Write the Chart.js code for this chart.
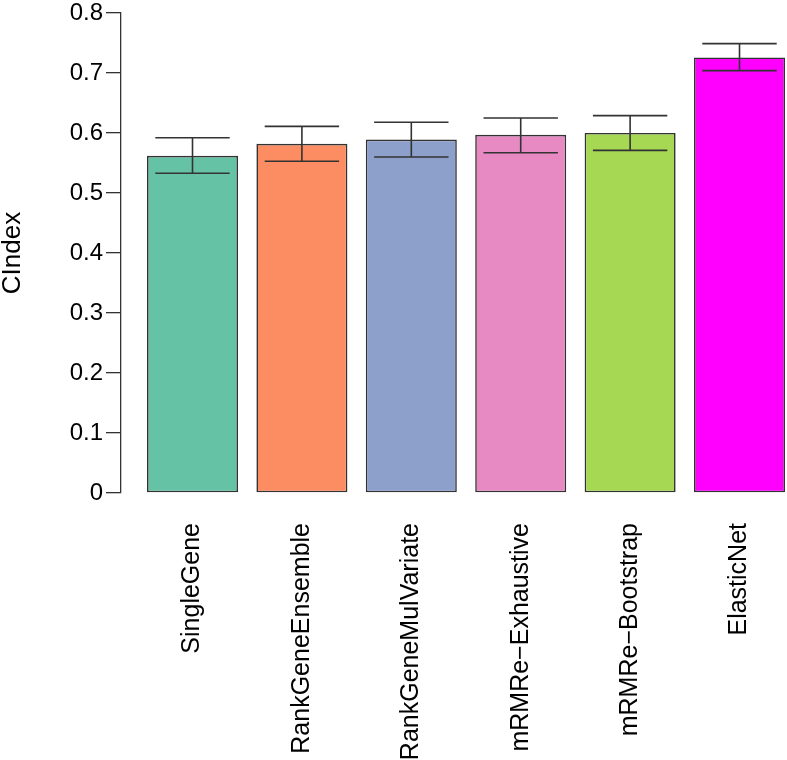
<!DOCTYPE html>
<html>
<head>
<meta charset="utf-8">
<script src="https://cdn.jsdelivr.net/npm/chart.js@4.4.0/dist/chart.umd.min.js"></script>
<style>
  html, body { margin: 0; padding: 0; background: #fff; }
  #wrap { width: 787px; height: 760px; }
</style>
</head>
<body>
<div id="wrap"><canvas id="cindexChart" width="787" height="760"></canvas></div>
<script>
// Dados
const methods = ['SingleGene', 'RankGeneEnsemble', 'RankGeneMulVariate', 'mRMRe\u2212Exhaustive', 'mRMRe\u2212Bootstrap', 'ElasticNet'];
const cindex = [0.562, 0.582, 0.589, 0.597, 0.600, 0.726];
const lowerCI = [0.533, 0.553, 0.560, 0.567, 0.571, 0.704];
const upperCI = [0.592, 0.611, 0.618, 0.625, 0.629, 0.749];
const barColors = ['#66C2A5', '#FC8D62', '#8DA0CB', '#E78AC3', '#A6D854', '#FF00FF'];
const yTickLabels = ['0', '0.1', '0.2', '0.3', '0.4', '0.5', '0.6', '0.7', '0.8'];

const fontFamily = '"Liberation Sans", Arial, sans-serif';

// Barras de erro desenhadas por cima das barras
const errorBars = {
  id: 'errorBars',
  afterDatasetsDraw(chart) {
    const { ctx, scales: { x, y } } = chart;
    ctx.save();
    ctx.strokeStyle = '#333';
    ctx.lineWidth = 1.6;
    for (let i = 0; i < methods.length; i++) {
      const cx = x.getPixelForValue(i);
      const x0 = x.getPixelForValue(i - 0.34);
      const x1 = x.getPixelForValue(i + 0.34);
      const yl = y.getPixelForValue(lowerCI[i]);
      const yu = y.getPixelForValue(upperCI[i]);
      ctx.beginPath();
      ctx.moveTo(cx, yl); ctx.lineTo(cx, yu);
      ctx.moveTo(x0, yu); ctx.lineTo(x1, yu);
      ctx.moveTo(x0, yl); ctx.lineTo(x1, yl);
      ctx.stroke();
    }
    ctx.restore();
  }
};

const ctx = document.getElementById('cindexChart').getContext('2d');
const chart = new Chart(ctx, {
  type: 'bar',
  data: {
    datasets: [{
      data: methods.map((m, i) => ({ x: i, y: cindex[i] })),
      backgroundColor: barColors,
      borderColor: '#333',
      borderWidth: 1.6,
      borderSkipped: false,
      barPercentage: 1,
      categoryPercentage: 0.832
    }]
  },
  options: {
    responsive: false,
    animation: false,
    layout: { padding: { top: 13, right: 0, left: 0, bottom: 0 } },
    plugins: { legend: { display: false }, tooltip: { enabled: false } },
    scales: {
      x: {
        type: 'linear',
        offset: false,
        min: -0.6536,
        max: 5.434,
        grid: { display: false, drawTicks: false },
        border: { display: false },
        afterBuildTicks: (s) => { s.ticks = methods.map((m, i) => ({ value: i })); },
        afterFit: (s) => { s.height = 267; s.paddingLeft = 0; s.paddingRight = 0; },
        ticks: {
          autoSkip: false,
          minRotation: 90,
          maxRotation: 90,
          padding: 30,
          color: '#000',
          font: { family: fontFamily, size: 25 },
          callback: (v) => methods[v]
        }
      },
      y: {
        min: 0,
        max: 0.8,
        afterFit: (s) => { s.width = 121; s.paddingTop = 0; s.paddingBottom = 0; },
        grid: { drawOnChartArea: false, drawTicks: true, tickLength: 15, color: '#333', lineWidth: 1.3 },
        border: { display: true, color: '#333', width: 1.3 },
        ticks: {
          stepSize: 0.1,
          padding: 3,
          color: '#000',
          font: { family: fontFamily, size: 24, lineHeight: 1 },
          callback: (v, i) => yTickLabels[i]
        },
        title: {
          display: true,
          text: 'CIndex',
          color: '#000',
          padding: 0,
          font: { family: fontFamily, size: 26, lineHeight: 1 }
        }
      }
    }
  },
  plugins: [errorBars]
});
</script>
</body>
</html>
